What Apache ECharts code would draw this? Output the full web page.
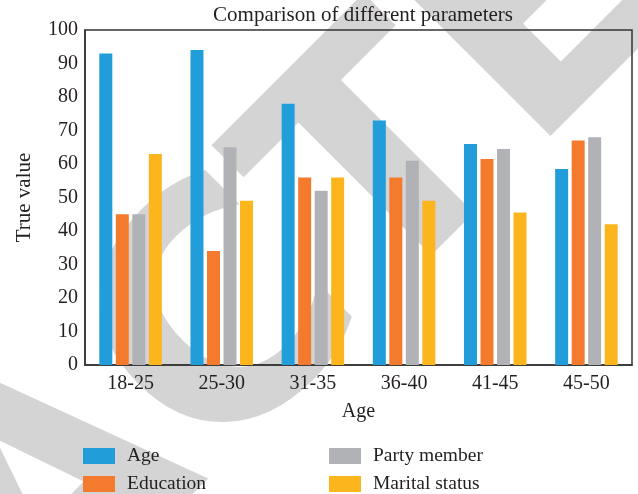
<!DOCTYPE html>
<html>
<head>
<meta charset="utf-8">
<script src="https://cdn.jsdelivr.net/npm/echarts@6/dist/echarts.min.js"></script>
<style>
  html, body { margin: 0; padding: 0; background: #fff; }
  #chart { width: 638px; height: 494px; }
</style>
</head>
<body>
<div id="chart"></div>
<script>
// data
var categories = ['18-25', '25-30', '31-35', '36-40', '41-45', '45-50'];
var ageVals = [93, 94, 78, 73, 66, 58.5];
var eduVals = [45, 34, 56, 56, 61.5, 67];
var partyVals = [45, 65, 52, 61, 64.5, 68];
var maritalVals = [63, 49, 56, 49, 45.5, 42];

var serif = 'Liberation Serif';
var txt = '#231f20';

function bar(name, data, color) {
  return {
    name: name,
    type: 'bar',
    data: data,
    barWidth: 13,
    barGap: '27%',
    itemStyle: { color: color }
  };
}

function legendAt(names, left) {
  return {
    data: names,
    orient: 'vertical',
    left: left, top: 446,
    padding: 0,
    itemWidth: 32, itemHeight: 16, itemGap: 8,
    icon: 'rect',
    textStyle: { fontFamily: serif, fontSize: 19.5, lineHeight: 18, color: txt, padding: [0, 0, 0, 7] }
  };
}

var chart = echarts.init(document.getElementById('chart'));
chart.setOption({
  animation: false,
  title: {
    text: 'Comparison of different parameters',
    left: 358,
    textAlign: 'center',
    top: 0,
    textStyle: { fontFamily: serif, fontWeight: 'normal', fontSize: 21, color: txt }
  },
  // diagonal watermark behind the plot
  graphic: [{
    type: 'text',
    x: -682, y: 1251,
    rotation: Math.PI / 4,
    z: -10,
    silent: true,
    style: {
      text: 'RETRACTED',
      font: 'bold 320px "DejaVu Sans"',
      align: 'left',
      verticalAlign: 'middle',
      fill: '#d4d4d4'
    }
  }],
  legend: [
    legendAt(['Age', 'Education'], 83),
    legendAt(['Party member', 'Marital status'], 329)
  ],
  grid: {
    left: 85, right: 6, top: 30, bottom: 129,
    show: true, borderColor: '#333', borderWidth: 1.5,
    containLabel: false
  },
  xAxis: {
    type: 'category',
    data: categories,
    name: 'Age',
    nameLocation: 'middle',
    nameGap: 37,
    nameTextStyle: { fontFamily: serif, fontSize: 20, color: txt },
    axisLine: { lineStyle: { color: '#333', width: 1.5 } },
    axisTick: { show: false },
    axisLabel: { fontFamily: serif, fontSize: 20, color: txt, margin: 9 }
  },
  yAxis: {
    type: 'value',
    min: 0, max: 100, interval: 10,
    name: 'True value',
    nameLocation: 'middle',
    nameGap: 50,
    nameTextStyle: { fontFamily: serif, fontSize: 21, color: txt },
    axisLine: { show: true, lineStyle: { color: '#333', width: 1.5 } },
    axisTick: { show: false },
    splitLine: { show: false },
    axisLabel: { fontFamily: serif, fontSize: 20, color: txt, margin: 7 }
  },
  series: [
    bar('Age', ageVals, '#219ed9'),
    bar('Education', eduVals, '#f47b2e'),
    bar('Party member', partyVals, '#b1b2b6'),
    bar('Marital status', maritalVals, '#fdb51e')
  ]
});
</script>
</body>
</html>
